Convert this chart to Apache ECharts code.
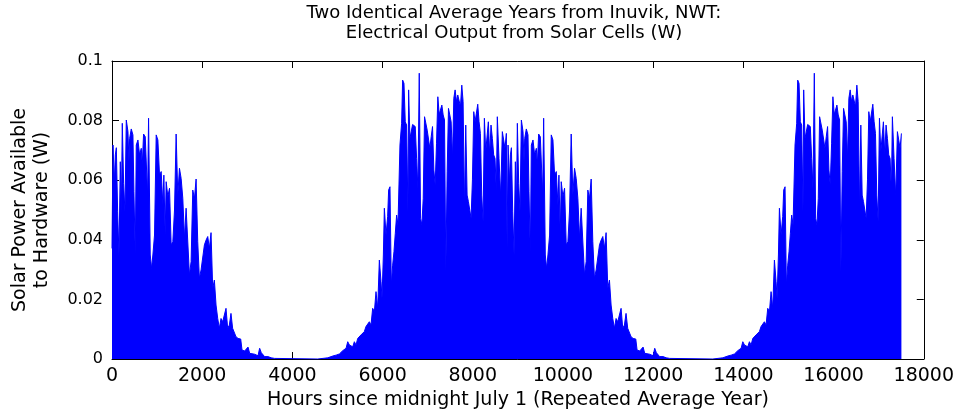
<!DOCTYPE html>
<html>
<head>
<meta charset="utf-8">
<script src="https://cdn.jsdelivr.net/npm/echarts@6/dist/echarts.min.js"></script>
<style>html,body{margin:0;padding:0;background:#fff}#c{width:957px;height:419px}</style>
</head>
<body>
<div id="c"></div>
<script>
// One average year (hours since midnight July 1) (upper envelope)
const yearHours = [0,22,52,74,96,125,155,184,206,228,258,287,317,354,376,391,427,464,486,516,538,575,612,649,671,700,737,759,789,811,848,877,906,943,980,1017,1054,1091,1128,1150,1179,1201,1238,1275,1312,1349,1386,1422,1459,1496,1533,1570,1607,1643,1680,1717,1754,1791,1828,1865,1901,1938,1975,2012,2049,2086,2123,2159,2196,2233,2270,2307,2344,2380,2417,2454,2491,2528,2565,2602,2638,2675,2712,2749,2786,
2795,2854,2883,2942,3016,3053,3090,3163,3237,3274,3311,3384,3458,3532,3605,3642,4563,4600,4785,4895,4969,5043,5116,5190,5227,5264,5337,5374,5411,5448,5485,5522,5558,5595,5632,5669,5706,5743,5780,
5818,5854,5891,5928,5965,5987,6017,6039,6076,6112,6134,6164,6193,6223,6252,6282,6311,6341,6385,6422,6444,6474,6503,6532,6562,6577,6606,6636,6665,6695,6724,6754,6783,6813,6842,6871,6901,6930,6960,6989,7019,7048,7078,7107,7137,7166,7196,7225,7255,7284,7314,7343,7373,7402,7432,7461,7491,7520,7550,7579,7608,7638,7667,7697,7726,7756,7785,7815,7844,7874,7903,7933,7962,7992,8021,8051,8080,8110,8139,8169,8198,8228,8257,8287,8316,8345,8375,8404,8434,8463,8493,8522,8544,8581,8618,8655,8685,8714,8744];
const yearPower = [0.0371,0.0718,0.0595,0.0685,0.0709,0.0494,0.0349,0.0662,0.0483,0.0791,0.0589,0.0494,0.0802,0.0763,0.0662,0.0740,0.0772,0.0752,0.0562,0.0349,0.0718,0.0735,0.0685,0.0707,0.0651,0.0755,0.0746,0.0740,0.0550,0.0808,0.0349,0.0304,0.0349,0.0416,0.0752,0.0735,0.0617,0.0629,0.0517,0.0617,0.0416,0.0595,0.0545,0.0573,0.0383,0.0394,0.0500,0.0755,0.0550,0.0640,0.0606,0.0539,0.0405,0.0506,0.0511,0.0282,0.0327,0.0567,0.0539,0.0604,0.0394,0.0271,0.0299,0.0293,0.0383,0.0399,0.0411,0.0371,0.0424,0.0237,0.0265,0.0181,0.0136,0.0103,0.0136,0.0125,0.0125,0.0170,0.0103,0.0114,0.0153,0.0103,0.0097,0.0075,0.0075,
0.0069,0.0067,0.0030,0.0027,0.0040,0.0019,0.0025,0.0016,0.0011,0.0036,0.0021,0.0008,0.0008,0.0004,0.0002,0,0,0.0003,0.0004,0.0010,0.0013,0.0017,0.0028,0.0036,0.0058,0.0047,0.0041,0.0058,0.0047,0.0069,0.0072,0.0081,0.0075,0.0092,0.0109,0.0103,0.0125,0.0114,0.0170,
0.0159,0.0226,0.0170,0.0332,0.0260,0.0204,0.0349,0.0506,0.0416,0.0478,0.0567,0.0578,0.0248,0.0315,0.0360,0.0422,0.0483,0.0450,0.0718,0.0791,0.0936,0.0925,0.0796,0.0785,0.0494,0.0903,0.0740,0.0746,0.0787,0.0785,0.0780,0.0673,0.0573,0.0959,0.0472,0.0450,0.0539,0.0813,0.0813,0.0768,0.0768,0.0707,0.0746,0.0780,0.0634,0.0584,0.0724,0.0880,0.0821,0.0819,0.0852,0.0819,0.0802,0.0293,0.0629,0.0841,0.0847,0.0796,0.0673,0.0875,0.0903,0.0864,0.0886,0.0888,0.0847,0.0919,0.0864,0.0500,0.0785,0.0550,0.0528,0.0522,0.0472,0.0601,0.0830,0.0796,0.0791,0.0855,0.0796,0.0757,0.0550,0.0461,0.0808,0.0696,0.0690,0.0796,0.0685,0.0785,0.0740,0.0685,0.0673,0.0562,0.0813,0.0673,0.0545,0.0763,0.0757,0.0707,0.0757];
const yearLength = 8760;      // hours in one year
const repeatedYears = 2;      // two identical years
const xTicks = {min: 0, max: 18000, interval: 2000};
const yTicks = {min: 0, max: 0.1, interval: 0.02};

const seriesData = [];
for (let k = 0; k < repeatedYears; k++) {
  for (let i = 0; i < yearHours.length; i++) {
    seriesData.push([yearHours[i] + k * yearLength, yearPower[i]]);
  }
}

const FONT = '"DejaVu Sans", sans-serif';
const chart = echarts.init(document.getElementById('c'), null, {renderer: 'canvas'});
const axisBase = () => ({
  axisLine: {show: true, onZero: false, lineStyle: {color: '#000', width: 1}},
  axisTick: {show: true, inside: true, length: 7, lineStyle: {color: '#000'}},
  splitLine: {show: false}
});
chart.setOption({
  animation: false,
  backgroundColor: '#fff',
  title: {
    text: 'Two Identical Average Years from Inuvik, NWT:\nElectrical Output from Solar Cells (W)',
    left: 514, top: 3, textAlign: 'center', padding: 0,
    textStyle: {fontFamily: FONT, fontSize: 18, fontWeight: 'normal', color: '#000', lineHeight: 20}
  },
  grid: {left: 112, right: 32, top: 61, bottom: 60, containLabel: false},
  xAxis: [
    Object.assign(axisBase(), {type: 'value', position: 'bottom', min: xTicks.min, max: xTicks.max, interval: xTicks.interval,
      name: 'Hours since midnight July 1 (Repeated Average Year)', nameLocation: 'middle', nameGap: 30,
      nameTextStyle: {fontFamily: FONT, fontSize: 19, color: '#000'},
      axisLabel: {fontFamily: FONT, fontSize: 19, color: '#000', margin: 8, formatter: v => String(v)}}),
    Object.assign(axisBase(), {type: 'value', position: 'top', min: xTicks.min, max: xTicks.max, interval: xTicks.interval,
      axisLabel: {show: false}})
  ],
  yAxis: [
    Object.assign(axisBase(), {type: 'value', position: 'left', min: yTicks.min, max: yTicks.max, interval: yTicks.interval,
      name: 'Solar Power Available\nto Hardware (W)', nameLocation: 'middle', nameGap: 59, nameRotate: 90,
      nameTextStyle: {fontFamily: FONT, fontSize: 19, color: '#000', lineHeight: 22},
      axisLabel: {fontFamily: FONT, fontSize: 16, color: '#000', margin: 9,
        formatter: v => String(+v.toFixed(2))}}),
    Object.assign(axisBase(), {type: 'value', position: 'right', min: yTicks.min, max: yTicks.max, interval: yTicks.interval,
      axisLabel: {show: false}})
  ],
  series: [{
    type: 'line',
    data: seriesData,
    showSymbol: false,
    sampling: 'none',
    lineStyle: {color: '#0000ff', width: 1},
    areaStyle: {color: '#0000ff', opacity: 1},
    itemStyle: {color: '#0000ff'}
  }]
});
</script>
</body>
</html>
